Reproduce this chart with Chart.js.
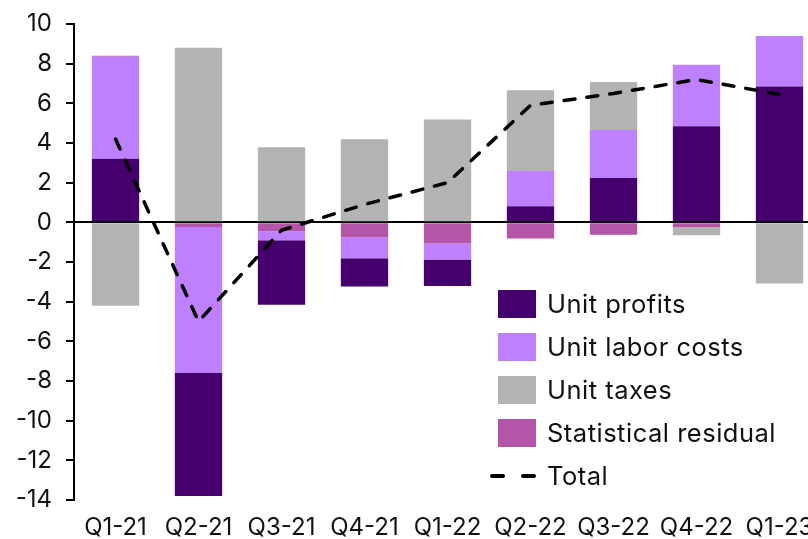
<!DOCTYPE html>
<html>
<head>
<meta charset="utf-8">
<script src="https://cdn.jsdelivr.net/npm/chart.js@4"></script>
<style>
  body { margin: 0; overflow: hidden; background: #fff; font-family: Inter, "Noto Sans", sans-serif; }
  #wrap { position: absolute; left: 0; top: 0; width: 821px; height: 539px; }
  .legend { position: absolute; left: 490px; top: 282px; font-size: 25.5px; color: #111; letter-spacing: 0.5px; }
  .legend .row { height: 43px; display: flex; align-items: center; }
  .legend .box { width: 38px; height: 28px; margin-left: 8px; margin-right: 11px; }
  .legend .dash { width: 46px; margin-right: 11px; display: flex; justify-content: space-between; }
  .legend .dash span { width: 15px; height: 4px; background: #000; border-radius: 2px; }
</style>
</head>
<body>
<div id="wrap"><canvas id="chart" width="821" height="539"></canvas></div>
<div class="legend">
  <div class="row"><div class="box" style="background:#45006E"></div>Unit profits</div>
  <div class="row"><div class="box" style="background:#BF80FF"></div>Unit labor costs</div>
  <div class="row"><div class="box" style="background:#B3B3B3"></div>Unit taxes</div>
  <div class="row"><div class="box" style="background:#B455A8"></div>Statistical residual</div>
  <div class="row"><div class="dash"><span></span><span></span></div>Total</div>
</div>
<script>
const quarters = ['Q1-21', 'Q2-21', 'Q3-21', 'Q4-21', 'Q1-22', 'Q2-22', 'Q3-22', 'Q4-22', 'Q1-23'];
const unitProfits = [3.2, -6.2, -3.25, -1.43, -1.34, 0.81, 2.24, 4.84, 6.85];
const unitLabor = [5.15, -7.36, -0.45, -1.05, -0.8, 1.78, 2.42, 3.11, 2.55];
const unitTaxes = [-4.2, 8.8, 3.78, 4.19, 5.19, 4.07, 2.42, -0.4, -3.08];
const residual = [0.05, -0.24, -0.45, -0.76, -1.07, -0.81, -0.63, -0.25, 0];
const total = [4.2, -5.0, -0.4, 0.9, 2.0, 5.9, 6.5, 7.2, 6.45];
const yTicks = [10, 8, 6, 4, 2, 0, -2, -4, -6, -8, -10, -12, -14];

const series = [
  { data: unitProfits, color: '#45006E' },
  { data: unitLabor, color: '#BF80FF' },
  { data: unitTaxes, color: '#B3B3B3' },
  { data: residual, color: '#B455A8' }
];

function bar(values, color) {
  return { type: 'bar', data: values, backgroundColor: color, stack: 'parts', order: 2,
           barPercentage: 0.57, categoryPercentage: 1 };
}

// positives stack upward in series order, negatives stack downward in reverse order
const datasets = [];
series.forEach(s => datasets.push(bar(s.data.map(v => v > 0 ? v : null), s.color)));
series.slice().reverse().forEach(s => datasets.push(bar(s.data.map(v => v < 0 ? v : null), s.color)));
datasets.push({
  type: 'line', data: total, stack: 'total', order: 0,
  borderColor: '#000', borderWidth: 3.5, borderDash: [11, 12], borderCapStyle: 'round',
  pointRadius: 0, tension: 0, fill: false
});

new Chart(document.getElementById('chart'), {
  data: { labels: quarters, datasets: datasets },
  options: {
    responsive: false,
    animation: false,
    layout: { padding: 0 },
    plugins: { legend: { display: false }, tooltip: { enabled: false } },
    scales: {
      x: {
        stacked: true,
        grid: { display: false },
        border: { display: false },
        ticks: { color: '#111', font: { family: "'Liberation Sans Narrow', Inter", size: 24 }, padding: 5, maxRotation: 0, autoSkip: false },
        afterFit: s => { s.height = 39; }
      },
      y: {
        stacked: true,
        min: -14, max: 10,
        afterBuildTicks: s => { s.ticks = yTicks.map(v => ({ value: v })); },
        afterFit: s => { s.width = 74; s.paddingTop = 24; },
        border: { display: true, color: '#000', width: 2 },
        grid: {
          drawOnChartArea: true,
          color: c => c.tick && c.tick.value === 0 ? '#000' : 'rgba(0,0,0,0)',
          lineWidth: 2,
          tickColor: '#000',
          tickLength: 8
        },
        ticks: { color: '#111', font: { family: 'Inter', size: 24 }, padding: 14 }
      }
    }
  }
});
</script>
</body>
</html>
